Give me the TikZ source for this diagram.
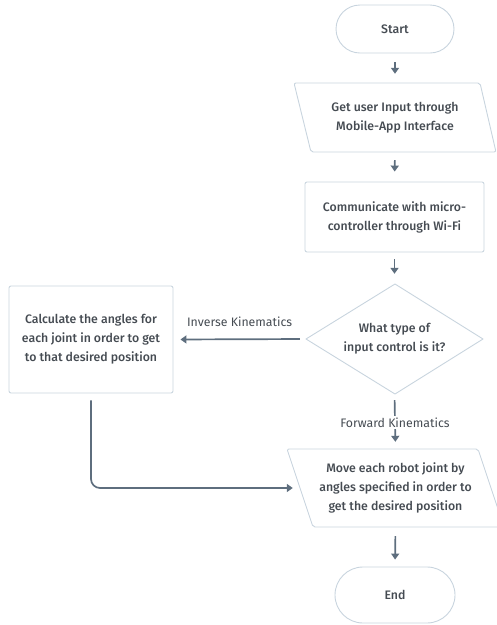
\documentclass[tikz,border=0pt]{standalone}
\usepackage{fontspec}
\setmainfont{Fira Sans}
\newfontfamily\medfont{Fira Sans Medium}
\usetikzlibrary{arrows.meta}
\definecolor{bord}{HTML}{C8D4DE}
\definecolor{arr}{HTML}{5E6E7E}
\definecolor{txt}{HTML}{454B52}
\tikzset{
  shape line/.style={draw=bord, line width=0.9pt, line join=round},
  lbl/.style={text=txt, font=\medfont\fontsize{12.3}{19}\selectfont, align=center, inner sep=0pt},
  edgelbl/.style={text=txt, font=\fontsize{12.3}{13}\selectfont, inner sep=2pt},
  flow/.style={draw=arr, line width=1.7pt, -{Triangle[length=6pt,width=8pt]}},
  stadium/.style={shape line, text=txt, font=\medfont\fontsize{12.3}{19}\selectfont, inner sep=0pt}
}
\begin{document}
\begin{tikzpicture}[x=1pt,y=-1pt]
\useasboundingbox (0,0) rectangle (497,625);
% Start
\node[stadium, rounded corners=24pt, minimum width=118pt, minimum height=48pt] (start) at (395,29) {Start};
% Input parallelogram
\draw[shape line, rounded corners=2pt] (294,83) -- (480,83) -- (496,152) -- (311,152) -- cycle;
\node[lbl, minimum width=185pt, minimum height=69pt] (in1) at (395,117.5) {Get user Input through\\Mobile-App Interface};
% Communicate
\node[shape line, rounded corners=2pt, minimum width=179pt, minimum height=70pt, lbl] (comm) at (394.5,217) {Communicate with micro-\\controller through Wi-Fi};
% Decision diamond
\draw[shape line] (395,284) -- (483,339) -- (395,394) -- (306,339) -- cycle;
\node[lbl, minimum width=177pt, minimum height=110pt] (dec) at (394.5,339) {What type of\\input control is it?};
% Calculate box
\node[shape line, rounded corners=2pt, minimum width=164pt, minimum height=107pt, lbl] (calc) at (91,339.5) {Calculate the angles for\\each joint in order to get\\to that desired position};
% Move parallelogram
\draw[shape line, rounded corners=2pt] (287,449) -- (478,449) -- (504,527) -- (313,527) -- cycle;
\node[lbl, minimum width=191pt, minimum height=78pt] (move) at (395.5,488) {Move each robot joint by\\angles specified in order to\\get the desired position};
% End
\node[stadium, rounded corners=28pt, minimum width=120pt, minimum height=56pt] (end) at (395,595) {End};
% Connectors
\draw[flow, shorten <=9pt, shorten >=9pt] (start.south) -- (in1.north);
\draw[flow, shorten <=8pt, shorten >=10pt] (in1.south) -- (comm.north);
\draw[flow, shorten <=7pt, shorten >=10pt] (comm.south) -- (dec.north);
\draw[flow, shorten <=6pt, shorten >=7pt] (dec.west) -- node[edgelbl, above=10pt] (inv) {Inverse Kinematics} (calc.east);
\draw[flow, shorten <=6pt, shorten >=7pt] (dec.south) -- node[edgelbl, fill=white, yshift=-1pt] (fwd) {Forward Kinematics} (move.north);
\draw[flow, rounded corners=9pt, shorten <=7pt, shorten >=7pt] (calc.south) |- (move.west);
\draw[flow, shorten <=9pt, shorten >=7pt] (move.south) -- (end.north);
\end{tikzpicture}
\end{document}
